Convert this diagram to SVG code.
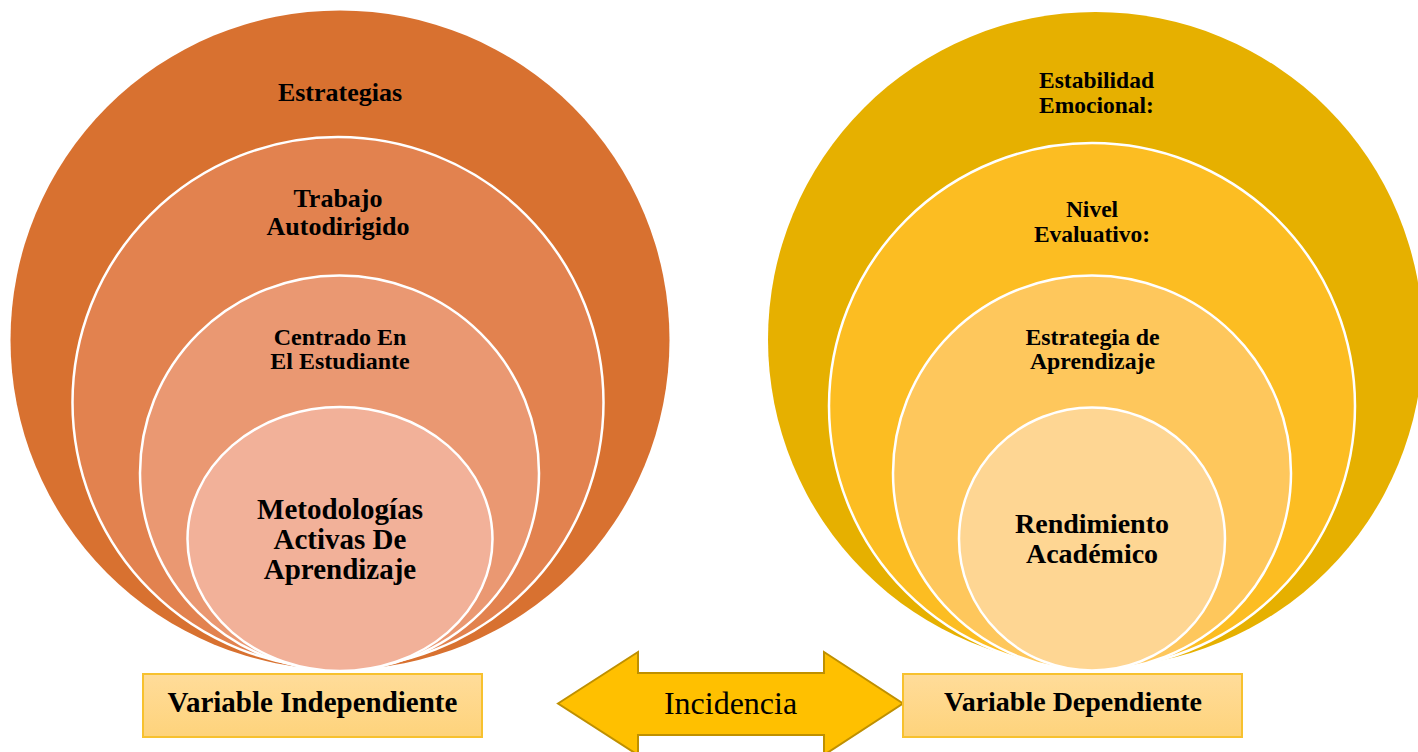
<svg xmlns="http://www.w3.org/2000/svg" width="1418" height="752" viewBox="0 0 1418 752">
<style>
  .t { font-family: "Liberation Serif", "Times New Roman", serif; font-weight: bold; fill: #000; text-anchor: middle; }
  .ring { stroke: #FFFFFF; stroke-width: 2.5; }
  .box { stroke: #F7C12E; stroke-width: 2; fill: url(#boxGrad); }
</style>
<defs>
  <linearGradient id="boxGrad" x1="0" y1="0" x2="0" y2="1">
    <stop offset="0" stop-color="#FFDC9A"/>
    <stop offset="1" stop-color="#FED37B"/>
  </linearGradient>
</defs>
<rect width="1418" height="752" fill="#FFFFFF"/>

<g id="left-stack">
  <g id="estrategias">
    <circle cx="340" cy="340" r="329.5" fill="#D87130"/>
    <text class="t" x="340" y="101" font-size="26">Estrategias</text>
  </g>
  <g id="trabajo-autodirigido">
    <circle class="ring" cx="338" cy="402.5" r="265.5" fill="#E2824F"/>
    <text class="t" x="338" y="207" font-size="26">Trabajo</text>
    <text class="t" x="338" y="235" font-size="26">Autodirigido</text>
  </g>
  <g id="centrado-estudiante">
    <ellipse class="ring" cx="339.5" cy="473" rx="199.5" ry="197.5" fill="#EA9872"/>
    <text class="t" x="340" y="345" font-size="24">Centrado En</text>
    <text class="t" x="340" y="369" font-size="24">El Estudiante</text>
  </g>
  <g id="metodologias">
    <ellipse class="ring" cx="340" cy="539" rx="152.5" ry="132" fill="#F2B199"/>
    <text class="t" x="340" y="519" font-size="29">Metodologías</text>
    <text class="t" x="340" y="549" font-size="29">Activas De</text>
    <text class="t" x="340" y="579" font-size="29">Aprendizaje</text>
  </g>
</g>

<g id="right-stack">
  <g id="estabilidad">
    <circle cx="1095.5" cy="339.5" r="327.5" fill="#E6B000"/>
    <text class="t" x="1096.5" y="88" font-size="23.5">Estabilidad</text>
    <text class="t" x="1096.5" y="113" font-size="23.5">Emocional:</text>
  </g>
  <g id="nivel-evaluativo">
    <circle class="ring" cx="1092" cy="406" r="263" fill="#FCBD22"/>
    <text class="t" x="1092" y="217" font-size="23.5">Nivel</text>
    <text class="t" x="1092" y="242" font-size="23.5">Evaluativo:</text>
  </g>
  <g id="estrategia-aprendizaje">
    <ellipse class="ring" cx="1092" cy="473" rx="199" ry="197.5" fill="#FEC75C"/>
    <text class="t" x="1092.5" y="345" font-size="23.8">Estrategia de</text>
    <text class="t" x="1092.5" y="369" font-size="23.8">Aprendizaje</text>
  </g>
  <g id="rendimiento">
    <ellipse class="ring" cx="1092" cy="539" rx="133" ry="131.5" fill="#FED693"/>
    <text class="t" x="1092" y="533" font-size="28">Rendimiento</text>
    <text class="t" x="1092" y="563" font-size="28">Académico</text>
  </g>
</g>

<g id="connectors">
  <path d="M558,703.5 L638,652 L638,673 L824,673 L824,652 L903,703.5 L824,755 L824,735 L638,735 L638,755 Z" fill="#FFC000" stroke="#BF9000" stroke-width="2" stroke-linejoin="miter"/>
  <text x="730.5" y="714" font-family="'Liberation Serif', 'Times New Roman', serif" font-size="32" text-anchor="middle" fill="#000">Incidencia</text>
</g>

<g id="variable-independiente">
  <rect class="box" x="143" y="674" width="339" height="63"/>
  <text class="t" x="312.5" y="712" font-size="29">Variable Independiente</text>
</g>
<g id="variable-dependiente">
  <rect class="box" x="903" y="674" width="339" height="63"/>
  <text class="t" x="1073" y="711" font-size="28">Variable Dependiente</text>
</g>
</svg>
